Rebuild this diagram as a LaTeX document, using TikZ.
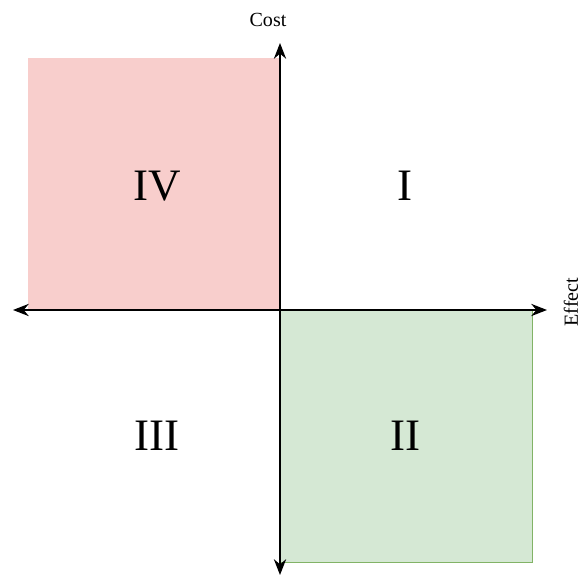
\documentclass[tikz,border=0pt]{standalone}
\usepackage{fontspec}
\setmainfont{Liberation Serif}
\usepackage{tikz}
\usetikzlibrary{arrows.meta, positioning}
\definecolor{quadred}{HTML}{F8CECC}
\definecolor{quadgreen}{HTML}{D5E8D4}
\definecolor{quadgreenline}{HTML}{82B366}

\begin{document}
\begin{tikzpicture}[
  x=0.02cm, y=-0.02cm,
  quad/.style={minimum width=5.04cm, minimum height=5.04cm, inner sep=0pt,
               anchor=north west},
  numeral/.style={font=\fontsize{25.6}{30}\selectfont},
  axislabel/.style={font=\fontsize{11.4}{13}\selectfont, inner sep=1pt},
  axis/.style={{Stealth[length=9pt, width=7pt]}-{Stealth[length=9pt, width=7pt]}, line width=0.8pt}
]
\useasboundingbox (0,0) rectangle (582,577);

% Quadrant boxes
\node[quad, fill=quadred] (red) at (28,58) {};
\node[quad, fill=quadgreen, draw=quadgreenline, line width=0.6pt] (green) at (280,310) {};

% Axes
\coordinate (xl) at (13,310);
\coordinate (xr) at (547,310);
\coordinate (yt) at (280,43);
\coordinate (yb) at (280,575);
\draw[axis] (xl) -- (xr);
\draw[axis] (yb) -- (yt);

% Axis labels
\node[axislabel] (cost) at (268,20) {Cost};
\node[axislabel, rotate=90] (effect) at (571,302) {Effect};

% Quadrant numbers
\node[numeral] (q1) at (405,186) {I};
\node[numeral] (q2) at (405,436) {II};
\node[numeral] (q3) at (157,436) {III};
\node[numeral] (q4) at (157,186) {IV};

\end{tikzpicture}
\end{document}
